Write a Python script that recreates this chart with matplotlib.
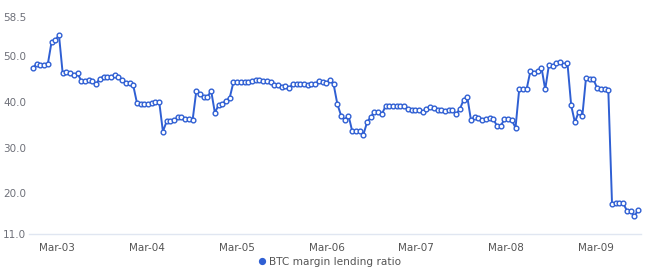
import numpy as np
import matplotlib
matplotlib.use("Agg")
import matplotlib.pyplot as plt
from matplotlib.lines import Line2D

# hourly BTC margin lending ratio
ratio_part1 = [47.5, 48.3, 48.0, 48.0, 48.3, 53.1, 53.5, 54.6, 46.2, 46.6, 46.4, 45.9, 46.2,
               44.6, 44.6, 44.7, 44.6, 43.9, 45.1, 45.5, 45.5, 45.5, 45.8, 45.5, 44.8, 44.2,
               44.1, 43.6, 39.8, 39.5, 39.5, 39.6, 39.7, 39.9, 40.0, 33.5, 35.7, 35.9, 36.0,
               36.6, 36.6, 36.3, 36.3, 36.0, 42.4, 41.8, 41.0, 41.1, 42.4, 37.6, 39.3]
ratio_part2 = [39.6, 40.2, 40.9, 44.3, 44.3, 44.3, 44.3, 44.4, 44.6, 44.7, 44.8, 44.5, 44.5,
               44.3, 43.7, 43.7, 43.2, 43.5, 43.1, 43.8, 44.0, 44.0, 44.0, 43.7, 44.0, 43.8,
               44.6, 44.3, 44.2, 44.7, 43.8, 39.5, 37.0, 36.1, 37.0, 33.6, 33.6, 33.6, 32.8,
               35.5, 36.7, 37.8, 37.8, 37.3, 39.1, 39.1, 39.1, 39.1, 39.1, 39.1, 38.4, 38.2,
               38.1, 38.2]
ratio_part3 = [37.8, 38.4, 38.9, 38.7, 38.1, 38.1, 37.9, 38.2, 38.2, 37.3, 38.4, 40.4, 41.1,
               36.0, 36.7, 36.4, 36.0, 36.2, 36.4, 36.3, 34.7, 34.7, 36.2, 36.2, 36.0, 34.3,
               42.8, 42.8, 42.8, 46.7, 46.4, 46.7, 47.5, 42.7, 48.1, 47.9, 48.4, 48.8, 48.0,
               48.4, 39.2, 35.5, 37.8, 36.9, 45.3, 45.1, 44.9, 43.0, 42.7, 42.7, 42.6, 17.7,
               17.9, 17.9, 17.8, 16.2, 16.1, 14.9, 16.3]
day_labels = ["Mar-03", "Mar-04", "Mar-05", "Mar-06", "Mar-07", "Mar-08", "Mar-09"]
y_ticks = [11.0, 20.0, 30.0, 40.0, 50.0, 58.5]
series_name = "BTC margin lending ratio"

values = np.array(ratio_part1 + ratio_part2 + ratio_part3)
x = np.arange(len(values))
first_midnight = 6.5
tick_pos = [first_midnight + 24.2 * i for i in range(len(day_labels))]

color = "#2f5fd3"
label_color = "#6e7079"

fig = plt.figure(figsize=(6.56, 2.69), dpi=100)
ax = fig.add_axes([29 / 656, 1 - 234.3 / 269, (641 - 29) / 656, (234.3 - 17.3) / 269])

ax.plot(x, values, color=color, lw=1.4, marker="o", ms=3.4, mfc="white",
        mec=color, mew=1.0, zorder=3)

ax.set_xlim(-4 / 3.71, len(values) - 1 + 3 / 3.71)
ax.set_ylim(11, 58.5)
ax.set_yticks(y_ticks)
ax.set_yticklabels([f"{v:.1f}" for v in y_ticks])
ax.set_xticks(tick_pos)
ax.set_xticklabels(day_labels)
ax.tick_params(axis="both", length=0, labelsize=7.5, colors=label_color)
ax.tick_params(axis="x", colors="#555555")
ax.tick_params(axis="y", pad=2)
ax.tick_params(axis="x", pad=6)

for s in ["top", "right", "left"]:
    ax.spines[s].set_visible(False)
ax.spines["bottom"].set_color("#e0e6f1")
ax.spines["bottom"].set_linewidth(1)

handle = Line2D([], [], color=color, marker="o", ls="", ms=4.2)
fig.legend([handle], [series_name], loc="center", bbox_to_anchor=(329 / 656, 1 - 262 / 269),
           frameon=False, fontsize=7.6, handletextpad=0.2, labelcolor="#555555",
           handlelength=1.0, borderaxespad=0, borderpad=0)

fig.savefig("out.png", dpi=100)
